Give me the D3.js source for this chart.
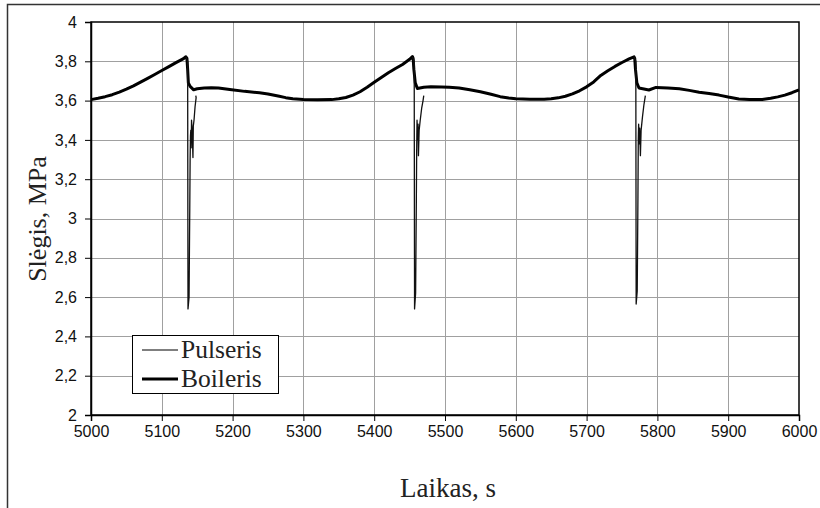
<!DOCTYPE html>
<html>
<head>
<meta charset="utf-8">
<script src="https://cdn.jsdelivr.net/npm/d3@7"></script>
<style>
  html, body { margin: 0; padding: 0; background: #fff; }
  svg { display: block; }
</style>
</head>
<body>
<svg id="chart" width="820" height="508"></svg>
<script>
// Boiler pressure trace (MPa) over time (s)
const boilerTime = [
  5000, 5010, 5020, 5030, 5040, 5050, 5060, 5070, 5080, 5090, 5100, 5110, 5120, 5130, 5134,
  5135.5, 5136.5, 5137.5, 5140, 5145, 5150, 5160, 5170, 5180, 5196, 5217, 5238, 5250, 5266, 5275, 5285, 5300, 5320, 5340,
  5350, 5360, 5370, 5380, 5390, 5400, 5410, 5420, 5430, 5440, 5450, 5454,
  5455, 5456, 5458, 5461, 5470, 5480, 5495, 5506, 5520, 5535, 5550, 5565, 5578, 5590, 5600, 5620, 5640,
  5650, 5660, 5670, 5680, 5690, 5700, 5710, 5720, 5730, 5740, 5750, 5760, 5767,
  5768, 5769, 5771, 5774, 5788, 5798, 5815, 5831, 5845, 5859, 5873, 5887, 5900, 5915, 5930, 5948,
  5960, 5970, 5980, 5990, 6000
];
const boilerPress = [
  3.605, 3.612, 3.620, 3.630, 3.643, 3.658, 3.675, 3.694, 3.713, 3.733, 3.753, 3.773, 3.793, 3.812, 3.823,
  3.815, 3.760, 3.690, 3.672, 3.655, 3.660, 3.664, 3.666, 3.664, 3.656, 3.647, 3.640, 3.634, 3.622, 3.615, 3.609, 3.605, 3.604, 3.605,
  3.609, 3.616, 3.628, 3.645, 3.668, 3.693, 3.718, 3.742, 3.763, 3.784, 3.810, 3.824,
  3.815, 3.760, 3.690, 3.662, 3.668, 3.670, 3.669, 3.668, 3.664, 3.655, 3.645, 3.632, 3.620, 3.613, 3.609, 3.607, 3.607,
  3.609, 3.614, 3.622, 3.634, 3.650, 3.670, 3.695, 3.728, 3.752, 3.774, 3.794, 3.812, 3.823,
  3.815, 3.760, 3.690, 3.664, 3.654, 3.667, 3.664, 3.660, 3.652, 3.643, 3.636, 3.628, 3.618, 3.608, 3.605, 3.606,
  3.612, 3.619, 3.628, 3.640, 3.655
];

// Pulser pressure during the three discharge events (null separates events)
const pulserTime = [
  5134, 5136.5, 5137, 5138.5, 5139.5, 5140, 5140.5, 5141, 5141.5, 5142, 5143, 5144, 5144.5, 5145.5, 5147, 5148.5, 5148, null,
  5454, 5456.5, 5457, 5458.5, 5459.5, 5460, 5460.5, 5461.5, 5462, 5462.5, 5463.5, 5465, 5467, 5469, 5470, null,
  5767, 5769.5, 5770, 5771.5, 5772.5, 5773, 5773.5, 5774.5, 5775, 5776, 5777, 5779, 5781, 5783
];
const pulserPress = [
  3.823, 3.80, 2.54, 2.60, 3.05, 3.30, 3.42, 3.45, 3.36, 3.50, 3.44, 3.31, 3.47, 3.50, 3.57, 3.615, 3.625, null,
  3.823, 3.80, 2.54, 2.62, 3.08, 3.35, 3.50, 3.40, 3.48, 3.32, 3.45, 3.50, 3.56, 3.60, 3.625, null,
  3.823, 3.80, 2.565, 2.63, 3.10, 3.40, 3.48, 3.38, 3.46, 3.32, 3.45, 3.52, 3.58, 3.625
];

// Axis ticks
const xTicks = [5000, 5100, 5200, 5300, 5400, 5500, 5600, 5700, 5800, 5900, 6000];
const yTicks = [2, 2.2, 2.4, 2.6, 2.8, 3, 3.2, 3.4, 3.6, 3.8, 4];

const xTitle = "Laikas, s";
const yTitle = "Slėgis, MPa";
const seriesNames = ["Pulseris", "Boileris"];

const svg = d3.select("#chart");
const W = 820, H = 508;
const plot = { left: 91, right: 799, top: 22, bottom: 415 };

svg.append("rect").attr("width", W).attr("height", H).attr("fill", "#fff");

// outer frame (runs off the right and bottom edges)
svg.append("path")
  .attr("d", `M7.5,${H} L7.5,4.5 L${W},4.5`)
  .attr("fill", "none").attr("stroke", "#333").attr("stroke-width", 1.5);

const x = d3.scaleLinear().domain([5000, 6000]).range([plot.left, plot.right]);
const y = d3.scaleLinear().domain([2, 4]).range([plot.bottom, plot.top]);

// grid
const grid = svg.append("g").attr("stroke", "#a0a0a0").attr("stroke-width", 1);
grid.selectAll("line.v").data(xTicks.slice(1, -1)).join("line")
  .attr("x1", d => Math.round(x(d)) + 0.5).attr("x2", d => Math.round(x(d)) + 0.5)
  .attr("y1", plot.top).attr("y2", plot.bottom);
grid.selectAll("line.h").data(yTicks.slice(1, -1)).join("line")
  .attr("y1", d => Math.round(y(d)) + 0.5).attr("y2", d => Math.round(y(d)) + 0.5)
  .attr("x1", plot.left).attr("x2", plot.right);

// plot border
svg.append("rect")
  .attr("x", plot.left).attr("y", plot.top)
  .attr("width", plot.right - plot.left).attr("height", plot.bottom - plot.top)
  .attr("fill", "none").attr("stroke", "#000").attr("stroke-width", 1.5);

const fmt = d => String(+d.toFixed(1)).replace(".", ",");

// axes
const xAxis = svg.append("g").attr("transform", `translate(0,${plot.bottom})`)
  .call(d3.axisBottom(x).tickValues(xTicks).tickSize(6).tickPadding(5).tickFormat(d3.format("d")));
const yAxis = svg.append("g").attr("transform", `translate(${plot.left},0)`)
  .call(d3.axisLeft(y).tickValues(yTicks).tickSize(6).tickPadding(8).tickFormat(fmt));
[xAxis, yAxis].forEach(g => {
  g.select(".domain").attr("stroke", "#000").attr("stroke-width", 1.5);
  g.selectAll(".tick line").attr("stroke", "#000").attr("stroke-width", 1);
  g.selectAll(".tick text")
    .attr("font-family", "'Liberation Sans', Arial, sans-serif")
    .attr("font-size", 16).attr("fill", "#111");
});

// series
const boilerData = boilerTime.map((t, i) => [t, boilerPress[i]]);
const pulserData = pulserTime.map((t, i) => [t, pulserPress[i]]);

const line = d3.line()
  .defined(d => d[0] != null && d[1] != null)
  .x(d => x(d[0])).y(d => y(d[1]));

svg.append("path").datum(boilerData)
  .attr("d", line).attr("fill", "none")
  .attr("stroke", "#000").attr("stroke-width", 3).attr("stroke-linejoin", "round");

svg.append("path").datum(pulserData)
  .attr("d", line).attr("fill", "none")
  .attr("stroke", "#111").attr("stroke-width", 1.3).attr("stroke-linejoin", "round");

// axis titles
const serif = "'Liberation Serif', 'Times New Roman', serif";
svg.append("text")
  .attr("x", 448).attr("y", 497)
  .attr("text-anchor", "middle")
  .attr("font-family", serif).attr("font-size", 27).attr("fill", "#222")
  .text(xTitle);
svg.append("text")
  .attr("transform", "translate(46,219) rotate(-90)")
  .attr("text-anchor", "middle")
  .attr("font-family", serif).attr("font-size", 26).attr("fill", "#222")
  .text(yTitle);

// legend
const lg = svg.append("g");
lg.append("rect")
  .attr("x", 132.5).attr("y", 335.5).attr("width", 146).attr("height", 58)
  .attr("fill", "#fff").attr("stroke", "#000").attr("stroke-width", 1);
const widths = [1.2, 3];
seriesNames.forEach((name, i) => {
  const cy = 350 + i * 29;
  lg.append("line")
    .attr("x1", 142).attr("x2", 178).attr("y1", cy).attr("y2", cy)
    .attr("stroke", "#000").attr("stroke-width", widths[i]);
  lg.append("text")
    .attr("x", 181).attr("y", cy + 8)
    .attr("font-family", serif).attr("font-size", 25.5).attr("fill", "#222")
    .text(name);
});
</script>
</body>
</html>
